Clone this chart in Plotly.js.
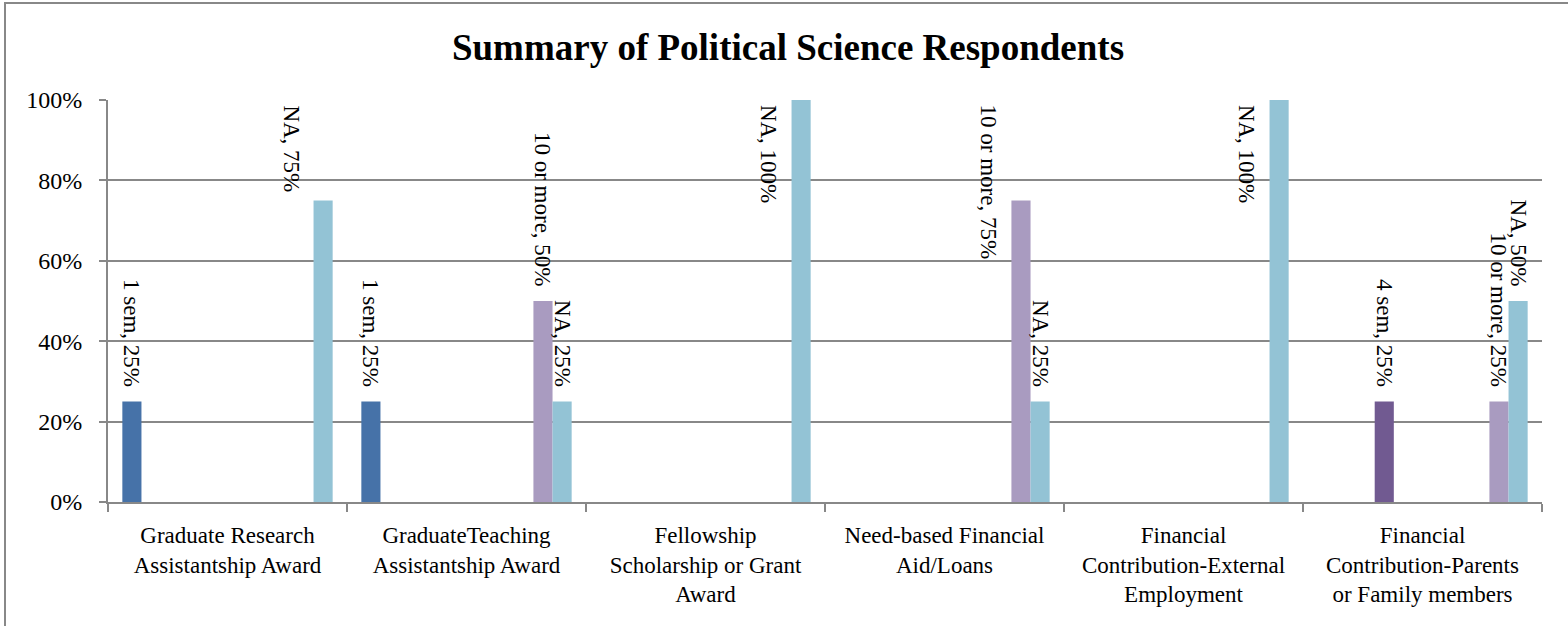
<!DOCTYPE html>
<html>
<head>
<meta charset="utf-8">
<script src="https://cdn.plot.ly/plotly-3.0.1.min.js"></script>
<style>
html,body{margin:0;padding:0;background:#fff;}
#chart{width:1568px;height:626px;}
</style>
</head>
<body>
<div id="chart"></div>
<script>
// Categories (x-axis tick labels)
const categories = [
  "Graduate Research<br>Assistantship Award",
  "GraduateTeaching<br>Assistantship Award",
  "Fellowship<br>Scholarship or Grant<br>Award",
  "Need-based Financial<br>Aid/Loans",
  "Financial<br>Contribution-External<br>Employment",
  "Financial<br>Contribution-Parents<br>or Family members"
];

// Series names
const seriesNames = ["1 sem","2 sem","3 sem","4 sem","5 sem","6 sem","7 sem","8 sem","9 sem","10 or more","NA"];

// Series values (fraction of respondents)
const sem1     = [0.25, 0.25, 0,    0,    0,    0];
const sem2     = [0,    0,    0,    0,    0,    0];
const sem3     = [0,    0,    0,    0,    0,    0];
const sem4     = [0,    0,    0,    0,    0,    0.25];
const sem5     = [0,    0,    0,    0,    0,    0];
const sem6     = [0,    0,    0,    0,    0,    0];
const sem7     = [0,    0,    0,    0,    0,    0];
const sem8     = [0,    0,    0,    0,    0,    0];
const sem9     = [0,    0,    0,    0,    0,    0];
const tenMore  = [0,    0.5,  0,    0.75, 0,    0.25];
const naVals   = [0.75, 0.25, 1.0,  0.25, 1.0,  0.5];

const seriesValues = [sem1, sem2, sem3, sem4, sem5, sem6, sem7, sem8, sem9, tenMore, naVals];
const seriesColors = ["#4672A8","#AA4643","#89A54E","#715A91","#4198AF","#DB843D","#93A9CF","#D19392","#B9CD96","#A99BC0","#93C3D5"];

const FAM = "Liberation Serif, Times New Roman, serif";
const labelFont = {family: FAM, size: 23, color: "#000"};
const PAD = "\u00A0\u00A0";
const BARGAP = 0.12;
const nSeries = seriesNames.length;
const slot = (1 - BARGAP) / nSeries;

const labelOf = (name, v) => name + ", " + Math.round(v * 100) + "%";
const fitsAbove = v => v < 0.7;   // labels that would run past the top are moved (as in Excel)

const traces = seriesNames.map((name, i) => {
  const vals = seriesValues[i];
  return {
    type: "bar",
    name: name,
    x: categories,
    y: vals,
    marker: {color: seriesColors[i], line: {width: 0}},
    text: vals.map(v => (v > 0 && fitsAbove(v)) ? labelOf(name, v) + PAD : ""),
    textposition: "outside",
    textangle: 90,
    textfont: labelFont,
    outsidetextfont: labelFont,
    constraintext: "none",
    cliponaxis: false,
    hoverinfo: "skip"
  };
});

// Labels that cannot sit above their bar: placed at the top, left of the bar
const annotations = [];
seriesNames.forEach((name, i) => {
  seriesValues[i].forEach((v, j) => {
    if (v > 0 && !fitsAbove(v)) {
      annotations.push({
        xref: "x", yref: "y",
        x: j - (1 - BARGAP) / 2 + slot * (i + 0.5),
        y: 1,
        text: labelOf(name, v),
        textangle: 90,
        showarrow: false,
        xanchor: "center", yanchor: "top",
        xshift: -32, yshift: -3,
        font: labelFont
      });
    }
  });
});

const L = 108, T = 100, W = 1434, H = 402;
const bx = (5 - L) / W, by = (H + T - 3) / H;

const layout = {
  width: 1568, height: 626,
  margin: {l: L, r: 1568 - L - W, t: T, b: 626 - T - H},
  paper_bgcolor: "#fff", plot_bgcolor: "#fff",
  barmode: "group",
  bargap: BARGAP,
  bargroupgap: 0,
  showlegend: false,
  font: {family: FAM, size: 23, color: "#000"},
  title: {
    text: "<b>Summary of Political Science Respondents</b>",
    font: {family: FAM, size: 37, color: "#000"},
    x: 788 / 1568, xref: "container", xanchor: "center",
    y: 1 - 47 / 626, yref: "container", yanchor: "middle"
  },
  xaxis: {
    type: "category",
    showline: true, linecolor: "#888", linewidth: 2,
    ticks: "outside", tickson: "boundaries", ticklen: 8, tickcolor: "#888", tickwidth: 2,
    ticklabelstandoff: 11,
    showgrid: false,
    tickfont: {family: FAM, size: 23, color: "#000"},
    tickangle: 0,
    automargin: false
  },
  yaxis: {
    range: [0, 1],
    dtick: 0.2, tick0: 0,
    tickformat: ".0%",
    showline: true, linecolor: "#888", linewidth: 2,
    ticks: "outside", ticklen: 7, tickcolor: "#888", tickwidth: 2,
    ticklabelstandoff: 12,
    showgrid: true, gridcolor: "#888", gridwidth: 2,
    zeroline: false,
    tickfont: {family: FAM, size: 24, color: "#000"},
    automargin: false
  },
  annotations: annotations,
  shapes: [{
    type: "path", xref: "paper", yref: "paper",
    path: `M ${bx} -0.5 L ${bx} ${by} L 1.2 ${by}`,
    line: {color: "#888", width: 2}
  }]
};

Plotly.newPlot("chart", traces, layout, {staticPlot: true, displayModeBar: false});
</script>
</body>
</html>
